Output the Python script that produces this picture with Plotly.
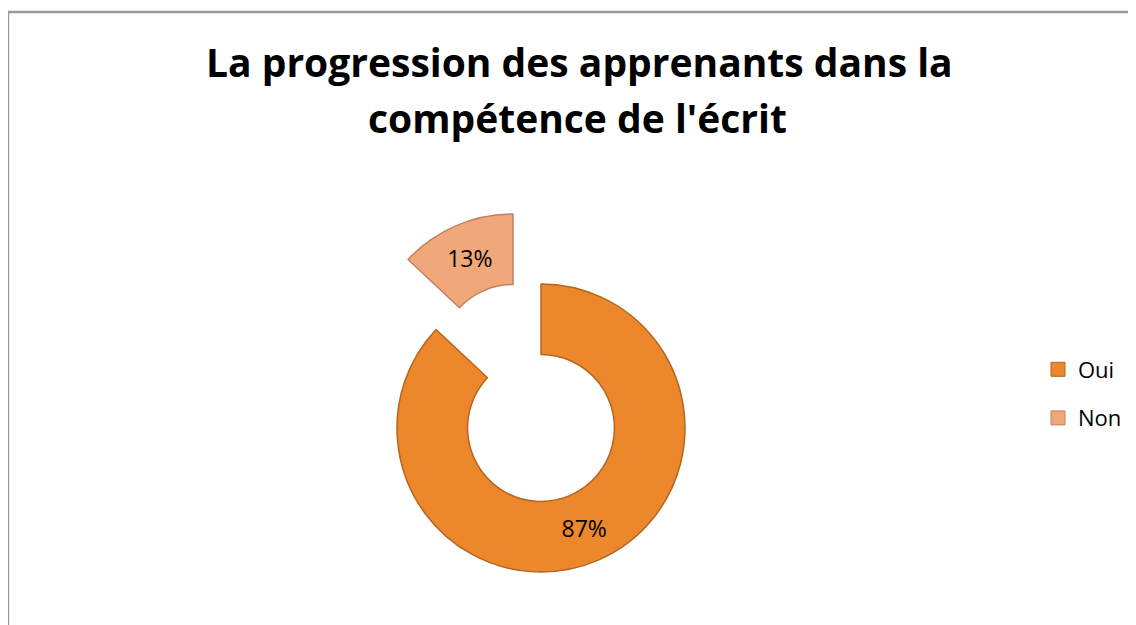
import plotly.graph_objects as go

# Data
labels = ["Oui", "Non"]
values = [87, 13]
title_lines = ["La progression des apprenants dans la", "compétence de l'écrit"]

# Styles
colors = ["#EC872C", "#F0A77A"]
edge_colors = ["#B5651F", "#C08060"]
clear = "rgba(0,0,0,0)"
W, H = 1136, 625
OFF = 8  # page body margin compensation
FONT = "Open Sans"

texts = [f"{v}%" for v in values]


def px_x(a, b):
    return [(a - OFF) / W, (b - OFF) / W]


def px_y(top, bottom):
    return [1 - (bottom - OFF) / H, 1 - (top - OFF) / H]


fig = go.Figure()

# Main ring: "Oui" slice in place, "Non" slice invisible
fig.add_trace(go.Pie(
    labels=labels, values=values, sort=False, direction="clockwise", rotation=0,
    hole=0.51,
    marker=dict(colors=[colors[0], clear], line=dict(color=[edge_colors[0], clear], width=1.5)),
    text=[texts[0], ""], textinfo="text", textposition="inside",
    insidetextorientation="horizontal",
    textfont=dict(family=FONT, size=23, color="#000000"),
    domain=dict(x=px_x(397, 685), y=px_y(284, 572)),
    showlegend=False, hoverinfo="label+percent",
))

# Exploded "Non" slice drawn as a shifted copy
fig.add_trace(go.Pie(
    labels=labels, values=values, sort=False, direction="clockwise", rotation=0,
    hole=0.51,
    marker=dict(colors=[clear, colors[1]], line=dict(color=[clear, edge_colors[1]], width=1.5)),
    text=["", texts[1]], textinfo="text", textposition="inside",
    insidetextorientation="horizontal",
    textfont=dict(family=FONT, size=23, color="#000000"),
    domain=dict(x=px_x(369, 657), y=px_y(214, 502)),
    showlegend=False, hoverinfo="label+percent",
))

# Legend entries
for i, lab in enumerate(labels):
    fig.add_trace(go.Scatter(
        x=[None], y=[None], mode="markers", name=lab, legendgroup=lab,
        marker=dict(symbol="square", size=14, color=colors[i],
                    line=dict(color=edge_colors[i], width=1)),
    ))

fig.add_annotation(text=f"<b>{title_lines[0]}</b>", x=(579 - OFF) / W, y=1 - (61.5 - OFF) / H,
                   xref="paper", yref="paper", xanchor="center", yanchor="middle",
                   showarrow=False, font=dict(family=FONT, size=39, color="#000000"))
fig.add_annotation(text=f"<b>{title_lines[1]}</b>", x=(577 - OFF) / W, y=1 - (117.5 - OFF) / H,
                   xref="paper", yref="paper", xanchor="center", yanchor="middle",
                   showarrow=False, font=dict(family=FONT, size=39, color="#000000"))

# Chart-area border
fig.add_shape(type="rect", xref="paper", yref="paper",
              x0=(8 - OFF) / W, x1=(W + 20) / W, y0=-20 / H, y1=1 - (12 - OFF) / H,
              line=dict(color="#9A9A9A", width=2.5), fillcolor=clear, layer="below")

fig.update_layout(
    width=W, height=H,
    margin=dict(l=0, r=0, t=0, b=0, pad=0),
    paper_bgcolor="#FFFFFF", plot_bgcolor="#FFFFFF",
    xaxis=dict(visible=False), yaxis=dict(visible=False),
    legend=dict(x=(1038 - OFF) / W, y=1 - (394 - OFF) / H, xanchor="left", yanchor="middle",
                font=dict(family=FONT, size=22, color="#000000"),
                traceorder="grouped", tracegroupgap=17, bgcolor=clear),
    font=dict(family=FONT),
)

fig.write_html("out.html")
